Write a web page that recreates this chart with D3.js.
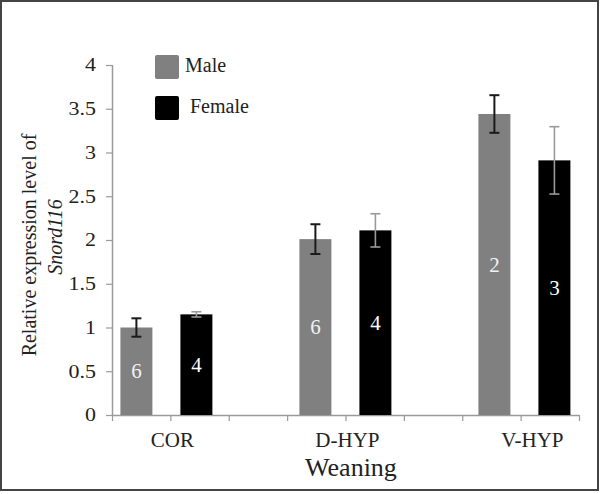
<!DOCTYPE html>
<html>
<head>
<meta charset="utf-8">
<script src="https://cdn.jsdelivr.net/npm/d3@7"></script>
<style>
  html, body { margin: 0; padding: 0; background: #fff; }
</style>
</head>
<body>
<svg id="chart" width="600" height="494"></svg>
<script>
// ---- data ----
const categories = ["COR", "D-HYP", "V-HYP"];
const seriesNames = ["Male", "Female"];
const maleValues = [1.00, 2.01, 3.44];
const maleErrors = [0.105, 0.17, 0.215];
const maleN = ["6", "6", "2"];
const femaleValues = [1.15, 2.11, 2.91];
const femaleErrors = [0.03, 0.19, 0.385];
const femaleN = ["4", "4", "3"];
const yTicks = [0, 0.5, 1, 1.5, 2, 2.5, 3, 3.5, 4];
const yTickLabels = ["0", "0.5", "1", "1.5", "2", "2.5", "3", "3.5", "4"];
const xTickCount = 8;
const xTitle = "Weaning";
const yTitleLine1 = "Relative expression level of";
const yTitleLine2 = "Snord116";

const colors = { Male: "#808080", Female: "#000000" };
const errColors = { Male: "#1a1a1a", Female: "#9a9a9a" };
const labelColors = { Male: "#f2f2f2", Female: "#ffffff" };

const rows = [];
categories.forEach((c, i) => {
  rows.push({ cat: c, series: "Male", value: maleValues[i], err: maleErrors[i], n: maleN[i] });
  rows.push({ cat: c, series: "Female", value: femaleValues[i], err: femaleErrors[i], n: femaleN[i] });
});

const svg = d3.select("#chart");
const FONT = '"Liberation Serif"';

// frame border
svg.append("rect")
  .attr("x", 1).attr("y", 1).attr("width", 597).attr("height", 489)
  .attr("fill", "#fff").attr("stroke", "#444").attr("stroke-width", 2);

const axisLeft = 112, axisRight = 579, yTop = 65, yBottom = 415;

const y = d3.scaleLinear().domain([0, 4]).range([yBottom, yTop]);
const x0 = d3.scalePoint().domain(categories).range([166.4, 524.4]);
const x1 = d3.scaleBand().domain(seriesNames).range([-60, 60]).paddingInner(0.467).paddingOuter(0.2335);
const xSlots = d3.scaleLinear().domain([0, xTickCount]).range([axisLeft, axisRight]);

const axisColor = "#9a9a9a";

// y axis
const tickStretch = 1.22;
const yAxisG = svg.append("g").attr("transform", `translate(${axisLeft},0)`)
  .call(d3.axisLeft(y).tickValues(yTicks).tickSize(6).tickPadding(12)
    .tickFormat((d, i) => yTickLabels[i]));
yAxisG.attr("font-family", null).attr("font-size", null);
yAxisG.select(".domain").attr("stroke", axisColor).attr("stroke-width", 1.5).attr("d", `M0.5,${yTop}V${yBottom}`);
yAxisG.selectAll(".tick line").attr("stroke", axisColor).attr("stroke-width", 1.2);
yAxisG.selectAll(".tick text").attr("fill", "#222")
  .attr("x", -16 / tickStretch)
  .attr("transform", `scale(${tickStretch},1)`)
  .style("font-family", FONT).style("font-size", "18px");

// x axis (slot ticks)
const xAxisG = svg.append("g").attr("transform", `translate(0,${yBottom})`)
  .call(d3.axisBottom(xSlots).tickValues(d3.range(0, xTickCount + 1)).tickSize(6).tickFormat(""));
xAxisG.select(".domain").attr("stroke", axisColor).attr("stroke-width", 1.5).attr("d", `M${axisLeft},0.5H${axisRight}`);
xAxisG.selectAll(".tick line").attr("stroke", axisColor).attr("stroke-width", 1.2);

// bars
const barG = svg.append("g");
barG.selectAll("rect.bar").data(rows).join("rect")
  .attr("class", "bar")
  .attr("x", d => x0(d.cat) + x1(d.series))
  .attr("width", x1.bandwidth())
  .attr("y", d => y(d.value))
  .attr("height", d => y(0) - y(d.value))
  .attr("fill", d => colors[d.series]);

// n labels
barG.selectAll("text.n").data(rows).join("text")
  .attr("class", "n")
  .attr("x", d => x0(d.cat) + x1(d.series) + x1.bandwidth() / 2)
  .attr("y", d => (y(d.value) + y(0)) / 2 + 7)
  .attr("text-anchor", "middle")
  .style("font-family", FONT).style("font-size", "21px")
  .attr("fill", d => labelColors[d.series])
  .text(d => d.n);

// error bars
const capW = 5;
const errG = barG.selectAll("g.err").data(rows).join("g").attr("class", "err")
  .attr("stroke", d => errColors[d.series])
  .attr("stroke-width", d => d.series === "Male" ? 2 : 1.6);
errG.append("line")
  .attr("x1", d => x0(d.cat) + x1(d.series) + x1.bandwidth() / 2)
  .attr("x2", d => x0(d.cat) + x1(d.series) + x1.bandwidth() / 2)
  .attr("y1", d => y(d.value + d.err)).attr("y2", d => y(d.value - d.err));
errG.append("line")
  .attr("x1", d => x0(d.cat) + x1(d.series) + x1.bandwidth() / 2 - capW)
  .attr("x2", d => x0(d.cat) + x1(d.series) + x1.bandwidth() / 2 + capW)
  .attr("y1", d => y(d.value + d.err)).attr("y2", d => y(d.value + d.err));
errG.append("line")
  .attr("x1", d => x0(d.cat) + x1(d.series) + x1.bandwidth() / 2 - capW)
  .attr("x2", d => x0(d.cat) + x1(d.series) + x1.bandwidth() / 2 + capW)
  .attr("y1", d => y(d.value - d.err)).attr("y2", d => y(d.value - d.err));

// category labels
svg.selectAll("text.cat").data(categories).join("text")
  .attr("class", "cat")
  .attr("x", (d, i) => x0(d) + [6, 2, 8][i])
  .attr("y", 447)
  .attr("text-anchor", "middle")
  .style("font-family", FONT).style("font-size", "21px")
  .attr("fill", "#222")
  .text(d => d);

// x title
svg.append("text")
  .attr("x", 351).attr("y", 476)
  .attr("text-anchor", "middle")
  .style("font-family", FONT).style("font-size", "26px")
  .attr("fill", "#222")
  .text(xTitle);

// y title
svg.append("text")
  .attr("transform", "translate(36,245) rotate(-90)")
  .attr("text-anchor", "middle")
  .style("font-family", FONT).style("font-size", "20px")
  .attr("fill", "#222")
  .text(yTitleLine1);
svg.append("text")
  .attr("transform", "translate(62,237) rotate(-90)")
  .attr("text-anchor", "middle")
  .style("font-family", FONT).style("font-size", "20px").style("font-style", "italic")
  .attr("fill", "#222")
  .text(yTitleLine2);

// legend
const legend = svg.append("g");
const legendY = d3.scalePoint().domain(seriesNames).range([55, 96]);
legend.selectAll("rect").data(seriesNames).join("rect")
  .attr("x", 155).attr("y", d => legendY(d))
  .attr("width", 24).attr("height", 24).attr("rx", 2)
  .attr("fill", d => colors[d]);
legend.selectAll("text").data(seriesNames).join("text")
  .attr("x", (d, i) => [185, 190][i])
  .attr("y", d => legendY(d) + 17)
  .style("font-family", FONT).style("font-size", "20px")
  .attr("fill", "#222")
  .text(d => d);
</script>
</body>
</html>
